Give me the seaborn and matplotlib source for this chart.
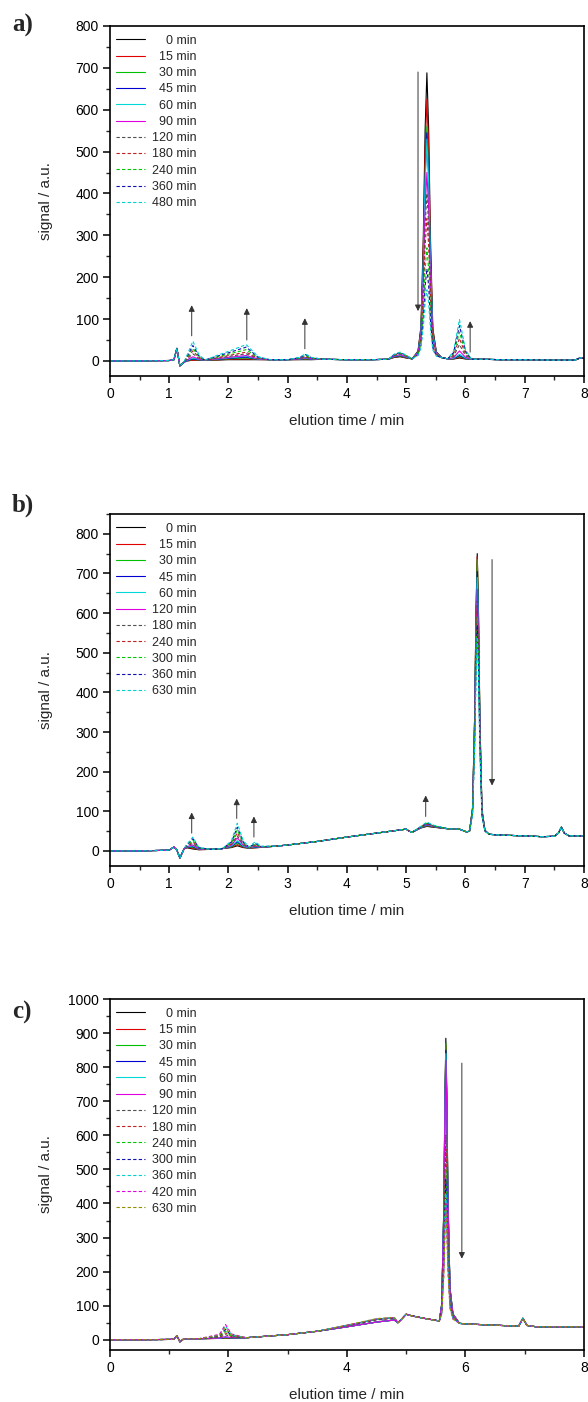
import pandas as pd
import matplotlib
matplotlib.use("Agg")
import matplotlib.pyplot as plt
import seaborn as sns
from matplotlib.ticker import MultipleLocator

sns.set_theme(style="ticks")
plt.rcParams['font.family'] = ['Liberation Sans', 'DejaVu Sans']

# ---------------- panel a ----------------
a_labels = ['0', '15', '30', '45', '60', '90', '120', '180', '240', '360', '480']
a_t = [0, 0.5, 1.0, 1.08, 1.13, 1.18, 1.25, 1.3, 1.4, 1.5, 1.6, 1.8, 2.0, 2.2, 2.3, 2.4,
       2.5, 2.7, 3.0, 3.2, 3.3, 3.4, 3.6, 4.0, 4.4, 4.7, 4.8, 4.9, 5.0, 5.1,
       5.2, 5.25, 5.29, 5.32, 5.35, 5.38, 5.41, 5.45, 5.51, 5.6, 5.7, 5.8, 5.9,
       6.0, 6.1, 6.3, 6.6, 7.0, 7.5, 7.85, 7.95, 8.0]
a_base = [0, 0, 1, 3, 30, -12, -3, 0, 2, 2, 2, 2, 3, 3, 3, 3,
          3, 3, 3, 3, 3, 3, 4, 3, 3, 4, 5, 5, 4, 5,
          10, 15, 15, 10, 10, 10, 10, 10, 8, 8, 5, 4, 4,
          4, 4, 4, 3, 3, 2, 2, 8, 6]
# peaks: times, relative profile, height per trace
a_main_t = [5.2, 5.25, 5.29, 5.32, 5.35, 5.38, 5.41, 5.45, 5.51]
a_main_f = [0.02, 0.1, 0.42, 0.8, 1.0, 0.8, 0.42, 0.1, 0.02]
a_main_h = [678, 615, 550, 535, 520, 440, 390, 330, 260, 210, 160]
a_p14_t = [1.3, 1.4, 1.5]
a_p14_f = [0.3, 1.0, 0.3]
a_p14_h = [0, 0, 2, 3, 5, 8, 15, 22, 28, 35, 45]
a_p23_t = [1.8, 2.0, 2.2, 2.3, 2.4, 2.5]
a_p23_f = [0.3, 0.55, 0.85, 1.0, 0.6, 0.2]
a_p23_h = [0, 2, 4, 6, 8, 10, 14, 18, 24, 30, 36]
a_p33_t = [3.2, 3.3, 3.4]
a_p33_f = [0.4, 1.0, 0.4]
a_p33_h = [0, 1, 2, 3, 4, 5, 6, 8, 10, 12, 14]
a_p49_t = [4.8, 4.9, 5.0]
a_p49_f = [0.7, 1.0, 0.6]
a_p49_h = [5, 6, 7, 8, 9, 10, 12, 13, 14, 15, 16]
a_p59_t = [5.8, 5.9, 6.0]
a_p59_f = [0.2, 1.0, 0.25]
a_p59_h = [3, 5, 7, 9, 12, 20, 35, 50, 65, 80, 95]

# ---------------- panel b ----------------
b_labels = ['0', '15', '30', '45', '60', '120', '180', '240', '300', '360', '630']
b_t = [0, 0.5, 1.0, 1.08, 1.13, 1.18, 1.25, 1.3, 1.4, 1.5, 1.7, 1.9, 2.05, 2.15, 2.25,
       2.35, 2.45, 2.55, 2.8, 3.0, 3.5, 4.0, 4.5, 5.0, 5.05, 5.1, 5.25, 5.35, 5.45,
       5.7, 5.9, 6.02, 6.07, 6.12, 6.155, 6.18, 6.2, 6.22, 6.245, 6.28, 6.33, 6.4,
       6.6, 7.0, 7.3, 7.5, 7.57, 7.62, 7.67, 7.75, 8.0]
b_base = [0, 0, 2, 10, 2, -18, 5, 8, 5, 3, 4, 6, 7, 8, 7,
          7, 8, 9, 12, 15, 24, 35, 45, 55, 50, 47, 58, 62, 60,
          56, 55, 48, 50, 52, 55, 55, 55, 55, 52, 48, 45, 42,
          40, 38, 36, 37, 45, 60, 45, 38, 38]
b_main_t = [6.07, 6.12, 6.155, 6.18, 6.2, 6.22, 6.245, 6.28, 6.33]
b_main_f = [0.0, 0.08, 0.4, 0.8, 1.0, 0.8, 0.4, 0.08, 0.01]
b_main_h = [695, 688, 680, 650, 635, 605, 575, 555, 535, 515, 485]
b_p14_t = [1.3, 1.4, 1.5]
b_p14_f = [0.3, 1.0, 0.2]
b_p14_h = [0, 2, 4, 6, 8, 10, 14, 18, 22, 26, 30]
b_p215_t = [2.05, 2.15, 2.25]
b_p215_f = [0.3, 1.0, 0.3]
b_p215_h = [5, 8, 12, 15, 18, 25, 30, 38, 45, 52, 62]
b_p245_t = [2.35, 2.45, 2.55]
b_p245_f = [0.2, 1.0, 0.2]
b_p245_h = [0, 0, 1, 2, 3, 4, 5, 7, 9, 11, 15]
b_p535_t = [5.25, 5.35, 5.45]
b_p535_f = [0.4, 1.0, 0.5]
b_p535_h = [0, 1, 2, 3, 4, 5, 6, 7, 8, 9, 11]

# ---------------- panel c ----------------
c_labels = ['0', '15', '30', '45', '60', '90', '120', '180', '240', '300', '360', '420', '630']
c_t = [0, 0.5, 1.0, 1.08, 1.13, 1.18, 1.25, 1.5, 1.85, 1.95, 2.05, 2.3, 3.0, 3.5, 4.0,
       4.5, 4.8, 4.86, 4.92, 5.0, 5.1, 5.3, 5.5, 5.56, 5.6, 5.635, 5.655, 5.67, 5.685,
       5.705, 5.74, 5.79, 5.9, 6.2, 6.6, 6.9, 6.97, 7.04, 7.2, 8.0]
c_base = [0, 0, 1, 2, 12, -6, 3, 3, 4, 5, 5, 6, 15, 25, 38,
          52, 58, 50, 60, 75, 70, 63, 57, 55, 55, 55, 55, 55, 55,
          54, 53, 51, 48, 45, 42, 40, 63, 42, 38, 38]
c_main_t = [5.56, 5.6, 5.635, 5.655, 5.67, 5.685, 5.705, 5.74, 5.79]
c_main_f = [0.0, 0.06, 0.4, 0.8, 1.0, 0.82, 0.45, 0.12, 0.03]
c_main_h = [830, 810, 815, 795, 785, 765, 545, 505, 445, 415, 375, 345, 325]
c_p195_t = [1.85, 1.95, 2.05]
c_p195_f = [0.3, 1.0, 0.3]
c_p195_h = [0, 0, 1, 2, 3, 4, 10, 15, 20, 25, 35, 40, 30]
c_rip_t = [4.0, 4.5, 4.8]
c_rip_f = [0.5, 1.0, 0.8]
c_rip_h = [0, 0, 0, 0, 0, 0, 6, 7, 8, 8, 9, 9, 10]

solid_cols = ['#000000', '#e00000', '#00c000', '#0000d0', '#00d8d8', '#e000e0']
dash_cols = ['#505050', '#c02020', '#00c800', '#1010b0', '#00d0d0', '#e000e0', '#909000']


def build(t, base, feats, labels):
    rows = []
    for k, lab in enumerate(labels):
        y = list(base)
        for times, fr, hs in feats:
            for tt, f in zip(times, fr):
                y[t.index(tt)] += hs[k] * f
        for tt, yy in zip(t, y):
            rows.append({'t': tt, 'signal': yy, 'trace': lab + ' min'})
    return pd.DataFrame(rows)


panels = [
    ('a)', a_labels, build(a_t, a_base, [(a_main_t, a_main_f, a_main_h), (a_p14_t, a_p14_f, a_p14_h),
                                          (a_p23_t, a_p23_f, a_p23_h), (a_p33_t, a_p33_f, a_p33_h),
                                          (a_p49_t, a_p49_f, a_p49_h), (a_p59_t, a_p59_f, a_p59_h)], a_labels),
     6, (-36, 800), 100, 1,
     [(1.38, 60, 133), (2.31, 50, 126), (3.29, 29, 102), (5.2, 690, 119), (6.08, 21, 95)]),
    ('b)', b_labels, build(b_t, b_base, [(b_main_t, b_main_f, b_main_h), (b_p14_t, b_p14_f, b_p14_h),
                                          (b_p215_t, b_p215_f, b_p215_h), (b_p245_t, b_p245_f, b_p245_h),
                                          (b_p535_t, b_p535_f, b_p535_h)], b_labels),
     6, (-38, 850), 100, 1,
     [(1.38, 45, 97), (2.14, 82, 132), (2.43, 35, 87), (5.33, 87, 140), (6.45, 735, 165)]),
    ('c)', c_labels, build(c_t, c_base, [(c_main_t, c_main_f, c_main_h), (c_p195_t, c_p195_f, c_p195_h),
                                          (c_rip_t, c_rip_f, c_rip_h)], c_labels),
     6, (-30, 1000), 100, 2,
     [(5.94, 812, 238)]),
]

axes_pos = [[0.187, 0.7318, 0.806, 0.2497],
            [0.187, 0.3823, 0.806, 0.2511],
            [0.187, 0.0371, 0.806, 0.2503]]
label_y = [1 - 25 / 1402, 1 - 505 / 1402, 1 - 1012 / 1402]

fig = plt.figure(figsize=(5.88, 14.02), dpi=100)

for (tag, labels, df, nsolid, ylim, ymaj, xmaj, arrows), pos, ly in zip(panels, axes_pos, label_y):
    ax = fig.add_axes(pos)
    handles = []
    for k, lab in enumerate(labels):
        sub = df[df['trace'] == lab + ' min']
        if k < nsolid:
            col, ls = solid_cols[k], '-'
        else:
            col, ls = dash_cols[k - nsolid], (0, (3, 2))
        sns.lineplot(data=sub, x='t', y='signal', color=col, linestyle=ls, lw=0.8,
                     estimator=None, sort=False, legend=False, ax=ax)
        handles.append(ax.lines[-1])
    padded = [(' ' * (2 * (3 - len(l)))) + l + ' min' for l in labels]
    ax.legend(handles, padded, loc='upper left', bbox_to_anchor=(0.013, 0.975),
              frameon=False, fontsize=9, handlelength=2.3, handletextpad=0.55,
              labelspacing=0.34, borderpad=0, borderaxespad=0)
    for x, y0, y1 in arrows:
        ax.annotate('', xy=(x, y1), xytext=(x, y0),
                    arrowprops=dict(arrowstyle='-|>', color='#333333', lw=0.7,
                                    mutation_scale=9, shrinkA=0, shrinkB=0))
    ax.set_xlim(0, 8)
    ax.set_ylim(*ylim)
    ax.xaxis.set_major_locator(MultipleLocator(xmaj))
    ax.xaxis.set_minor_locator(MultipleLocator(xmaj / 2))
    ax.yaxis.set_major_locator(MultipleLocator(ymaj))
    ax.yaxis.set_minor_locator(MultipleLocator(ymaj / 2))
    ax.tick_params(which='major', direction='out', length=5, width=1.1, labelsize=10,
                   colors='black', pad=3)
    ax.tick_params(which='minor', direction='out', length=3, width=1.0)
    for s in ax.spines.values():
        s.set_linewidth(1.2)
        s.set_color('black')
    ax.set_xlabel('elution time / min', fontsize=11, labelpad=9)
    ax.set_ylabel('signal / a.u.', fontsize=11)
    ax.yaxis.set_label_coords(-0.12, 0.5)
    fig.text(12 / 588, ly, tag, fontsize=18, fontweight='bold',
             family=['Liberation Serif', 'DejaVu Serif'], va='center', ha='left')

fig.savefig('out.png', dpi=100)
